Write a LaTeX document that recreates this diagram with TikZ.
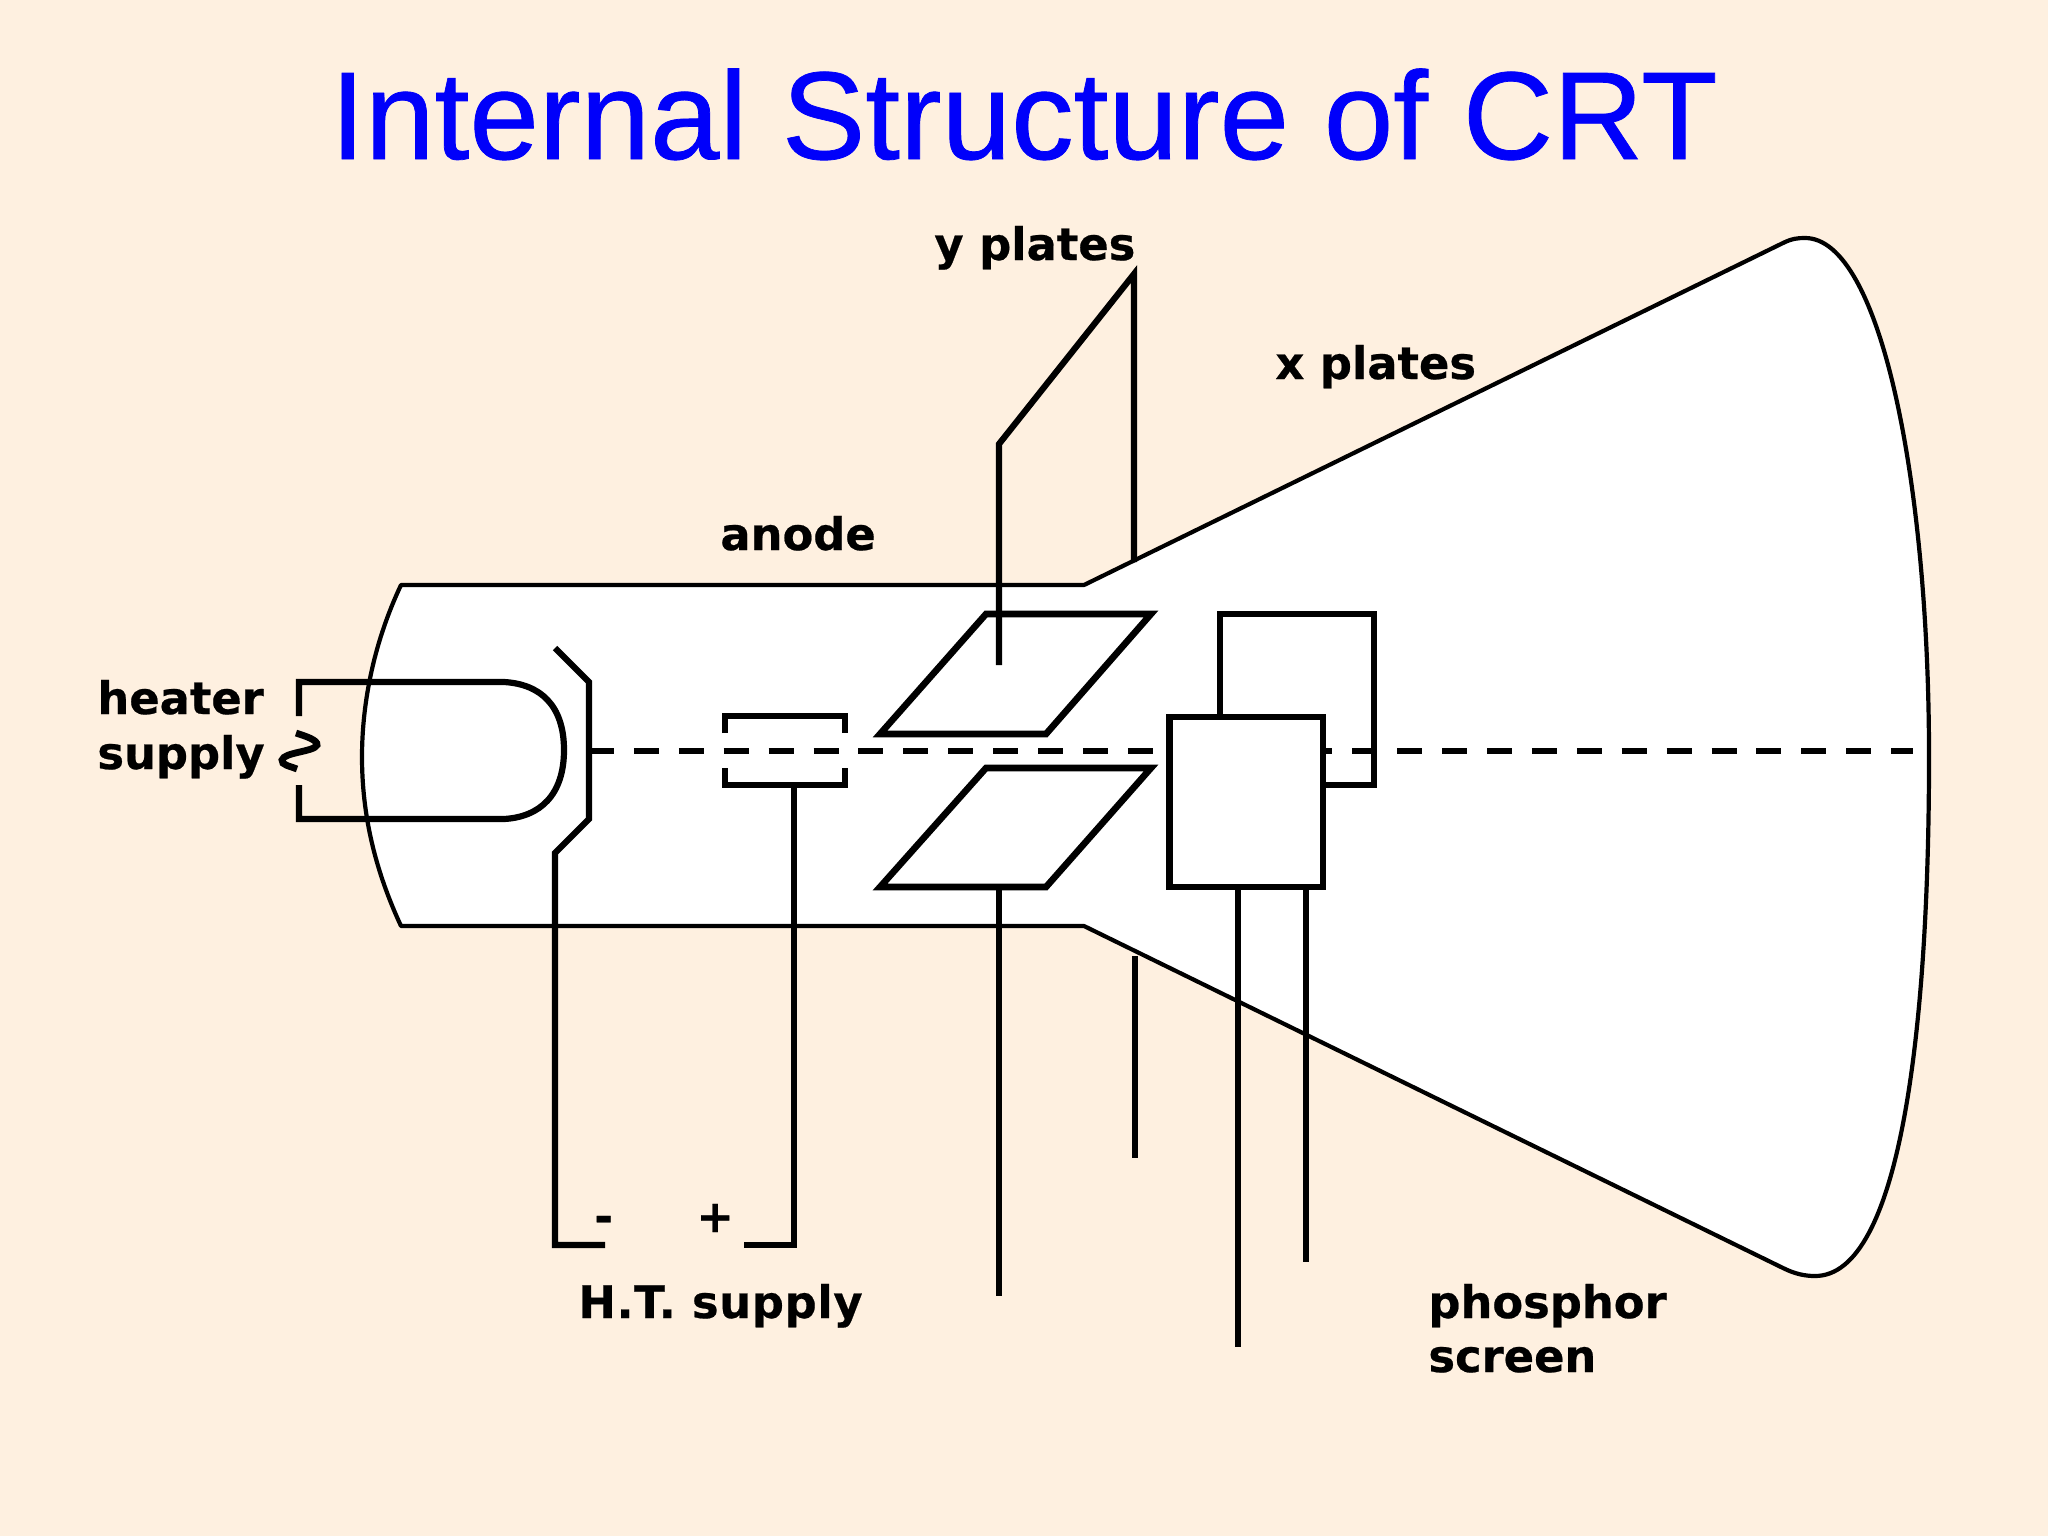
\documentclass[tikz,border=0pt]{standalone}
\usepackage{fontspec}
\setmainfont{DejaVu Sans}[BoldFeatures={FakeBold=0.5}]
\newfontfamily\titlefont{Liberation Sans}[FakeBold=0.6]
\definecolor{slidebg}{HTML}{FEF0E0}
\definecolor{titleblue}{HTML}{0000FA}
\tikzset{
  tubeline/.style={draw=black,line width=2.1pt,line join=round},
  wire/.style={draw=black,line width=3.1pt,line join=miter},
  plate/.style={draw=black,line width=3.3pt,line join=miter},
  beam/.style={draw=black,line width=3pt,dash pattern=on 12.5pt off 9.95pt},
  lbl/.style={font=\bfseries\fontsize{22.4}{27}\selectfont,text=black,inner sep=0pt,anchor=base west,align=left},
  titletext/.style={font=\titlefont\fontsize{62.5}{70}\selectfont,text=titleblue,inner sep=0pt,anchor=base}
}
\begin{document}
\begin{tikzpicture}[x=0.5pt,y=-0.5pt]
\useasboundingbox (0,0) rectangle (2048,1536);
\fill[slidebg] (0,0) rectangle (2048,1536);
% tube envelope
\coordinate (tl) at (401,585);
\coordinate (bl) at (401,926);
\coordinate (nt) at (1084,585);
\coordinate (nb) at (1084,926);
\coordinate (ft) at (1783,243);
\coordinate (pt) at (1805,238);
\coordinate (rx) at (1929,757);
\coordinate (pb) at (1815,1276);
\coordinate (fb) at (1783,1268);
\coordinate (lx) at (362,757);
\path[tubeline,fill=white] (tl) -- (nt) -- (ft)
  .. controls (1792,238.5) and (1798,238) .. (pt)
  .. controls (1880,238) and (1929,480) .. (rx)
  .. controls (1929,1030) and (1900,1276) .. (pb)
  .. controls (1805,1276) and (1795,1274) .. (fb)
  -- (nb) -- (bl)
  .. controls (375,870) and (362,815) .. (lx)
  .. controls (362,700) and (375,640) .. (tl) -- cycle;
% beam
\coordinate (beamA) at (589,751);
\coordinate (beamB) at (1913,751);
\draw[beam] (beamA) -- (beamB);
% heater
\coordinate (h1) at (299,716);
\coordinate (h2) at (299,682);
\coordinate (h3) at (504,682);
\coordinate (h4) at (564,750);
\coordinate (h5) at (504,819);
\coordinate (h6) at (299,819);
\coordinate (h7) at (299,785);
\draw[wire] (h1) -- (h2) -- (h3) .. controls (540,684) and (564,705) .. (h4)
  .. controls (564,795) and (540,817) .. (h5) -- (h6) -- (h7);
\coordinate (s1) at (296,733);
\coordinate (s2) at (317,745);
\coordinate (s3) at (282,760);
\coordinate (s4) at (297,769);
\draw[wire,line width=3.4pt,line cap=butt] (s1) .. controls (305,736) and (318,740) .. (s2)
  .. controls (314,752) and (284,752) .. (s3) .. controls (281,765) and (290,766) .. (s4);
% cathode
\coordinate (c1) at (555,648);
\coordinate (c2) at (589,682);
\coordinate (c3) at (589,819);
\coordinate (c4) at (555,853);
\coordinate (c5) at (555,1245);
\coordinate (c6) at (605,1245);
\draw[wire] (c1) -- (c2) -- (c3) -- (c4) -- (c5) -- (c6);
% anode
\coordinate (a1) at (725,733);
\coordinate (a2) at (725,716);
\coordinate (a3) at (845,716);
\coordinate (a4) at (845,733);
\coordinate (a5) at (725,768);
\coordinate (a6) at (725,785);
\coordinate (a7) at (845,785);
\coordinate (a8) at (845,768);
\coordinate (a9) at (794,785);
\coordinate (a10) at (794,1245);
\coordinate (a11) at (744,1245);
\draw[wire] (a1) -- (a2) -- (a3) -- (a4);
\draw[wire] (a5) -- (a6) -- (a7) -- (a8);
\draw[wire] (a9) -- (a10) -- (a11);
% y plates
\coordinate (yu1) at (986,614);
\coordinate (yu2) at (1151,614);
\coordinate (yu3) at (1046,734);
\coordinate (yu4) at (880,734);
\coordinate (yl1) at (986,768);
\coordinate (yl2) at (1151,768);
\coordinate (yl3) at (1046,887);
\coordinate (yl4) at (880,887);
\draw[plate] (yu1) -- (yu2) -- (yu3) -- (yu4) -- cycle;
\draw[plate] (yl1) -- (yl2) -- (yl3) -- (yl4) -- cycle;
\coordinate (ys1) at (999,665);
\coordinate (ys2) at (999,444);
\coordinate (ys3) at (1134,274);
\coordinate (ys4) at (1134,562);
\draw[wire] (ys1) -- (ys2) -- (ys3) -- (ys4);
\coordinate (ys5) at (999,887);
\coordinate (ys6) at (999,1296);
\draw[wire] (ys5) -- (ys6);
\coordinate (ys7) at (1135,956);
\coordinate (ys8) at (1135,1158);
\draw[wire] (ys7) -- (ys8);
% x plates
\coordinate (xb1) at (1220,717);
\coordinate (xb2) at (1220,614);
\coordinate (xb3) at (1374,614);
\coordinate (xb4) at (1374,785);
\coordinate (xb5) at (1323,785);
\draw[plate] (xb1) -- (xb2) -- (xb3) -- (xb4) -- (xb5);
\draw[plate,fill=white] (1169.5,717) rectangle (1323,887);
\coordinate (xs1) at (1238,887);
\coordinate (xs2) at (1238,1347);
\coordinate (xs3) at (1306,887);
\coordinate (xs4) at (1306,1262);
\draw[wire] (xs1) -- (xs2);
\draw[wire] (xs3) -- (xs4);
% text
\node[titletext] (title) at (1024,159) {Internal Structure of CRT};
\node[lbl] (yplates) at (934,260) {y plates};
\node[lbl] (xplates) at (1275,379) {x plates};
\node[lbl] (anode) at (720,550) {anode};
\node[lbl] (heater) at (97,714) {heater};
\node[lbl] (supply) at (97,769) {supply};
\node[lbl] (minus) at (594,1232) {-};
\node[lbl] (plus) at (696,1232) {+};
\node[lbl] (ht) at (578,1318) {\addfontfeature{LetterSpace=1.5}H.T. supply};
\node[lbl] (phos) at (1428,1318) {phosphor};
\node[lbl] (screen) at (1428,1372) {screen};
\end{tikzpicture}
\end{document}
